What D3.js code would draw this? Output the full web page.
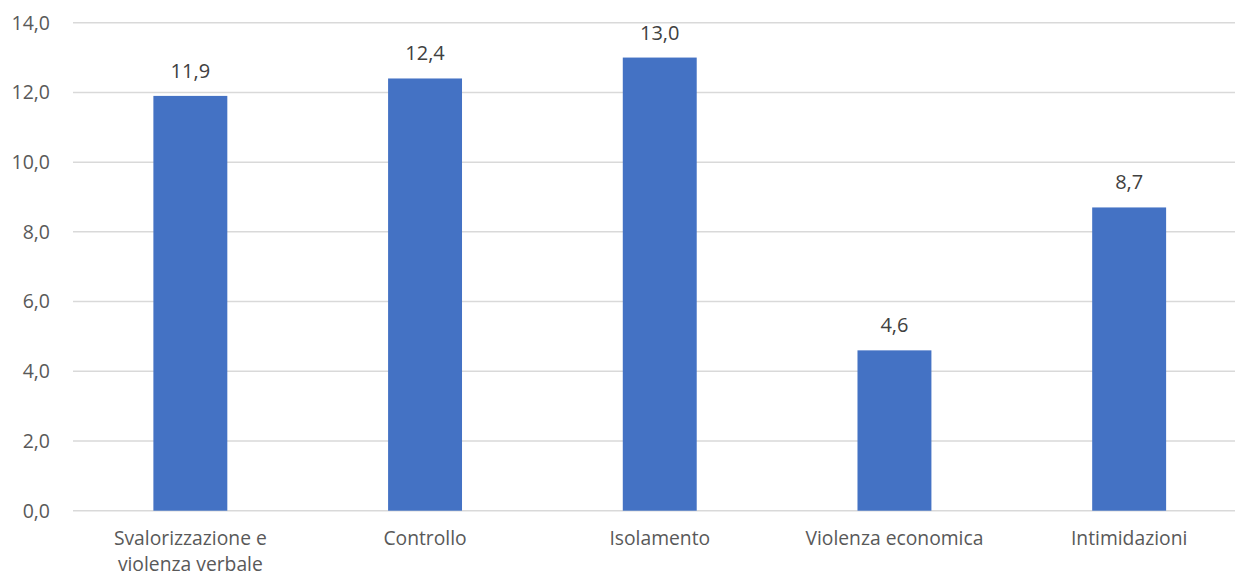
<!DOCTYPE html>
<html><head><meta charset="utf-8">
<script src="https://cdn.jsdelivr.net/npm/d3@7"></script>
<style>body{margin:0;background:#fff}svg{display:block}</style>
</head><body>
<script>
const categories = [["Svalorizzazione e","violenza verbale"],["Controllo"],["Isolamento"],["Violenza economica"],["Intimidazioni"]];
const values = [11.9, 12.4, 13.0, 4.6, 8.7];
const yTicks = [0, 2, 4, 6, 8, 10, 12, 14];

const W = 1235, H = 578;
const plotLeft = 73, bandW = 234.7, plotRight = plotLeft + bandW * 5;
const plotTop = 22.7, plotBottom = 510.7;
const font = "'Open Sans', sans-serif";

const svg = d3.select("body").append("svg").attr("width", W).attr("height", H);

const x = d3.scaleBand().domain(d3.range(categories.length)).range([plotLeft, plotRight]).padding(0);
const y = d3.scaleLinear().domain([0, 14]).range([plotBottom, plotTop]);
const barW = x.bandwidth() * 0.315;

svg.append("g").selectAll("line").data(yTicks).join("line")
  .attr("x1", plotLeft).attr("x2", W).attr("y1", d => y(d)).attr("y2", d => y(d))
  .attr("stroke", "#d9d9d9").attr("stroke-width", 1.5);

svg.append("g").selectAll("text").data(yTicks).join("text")
  .attr("x", 50).attr("y", d => y(d)).attr("dy", "0.35em")
  .attr("text-anchor", "end").attr("font-family", font).attr("font-size", 19.5)
  .attr("fill", "#595959").text(d => d.toFixed(1).replace(".", ","));

svg.append("g").selectAll("rect").data(values).join("rect")
  .attr("x", (d, i) => x(i) + x.bandwidth() / 2 - barW / 2)
  .attr("width", barW)
  .attr("y", d => y(d)).attr("height", d => y(0) - y(d))
  .attr("fill", "#4472c4");

svg.append("g").selectAll("text").data(values).join("text")
  .attr("x", (d, i) => x(i) + x.bandwidth() / 2)
  .attr("y", d => y(d) - 25).attr("dy", "0.35em")
  .attr("text-anchor", "middle").attr("font-family", font).attr("font-size", 20)
  .attr("fill", "#404040").text(d => d.toFixed(1).replace(".", ","));

const lab = svg.append("g").selectAll("text").data(categories).join("text")
  .attr("x", (d, i) => x(i) + x.bandwidth() / 2)
  .attr("text-anchor", "middle").attr("font-family", font).attr("font-size", 19.3)
  .attr("fill", "#595959");
lab.selectAll("tspan").data(d => d).join("tspan")
  .attr("x", function() { return this.parentNode.getAttribute("x"); })
  .attr("y", (d, i) => 545 + i * 26.4)
  .text(d => d);
</script>
</body></html>
